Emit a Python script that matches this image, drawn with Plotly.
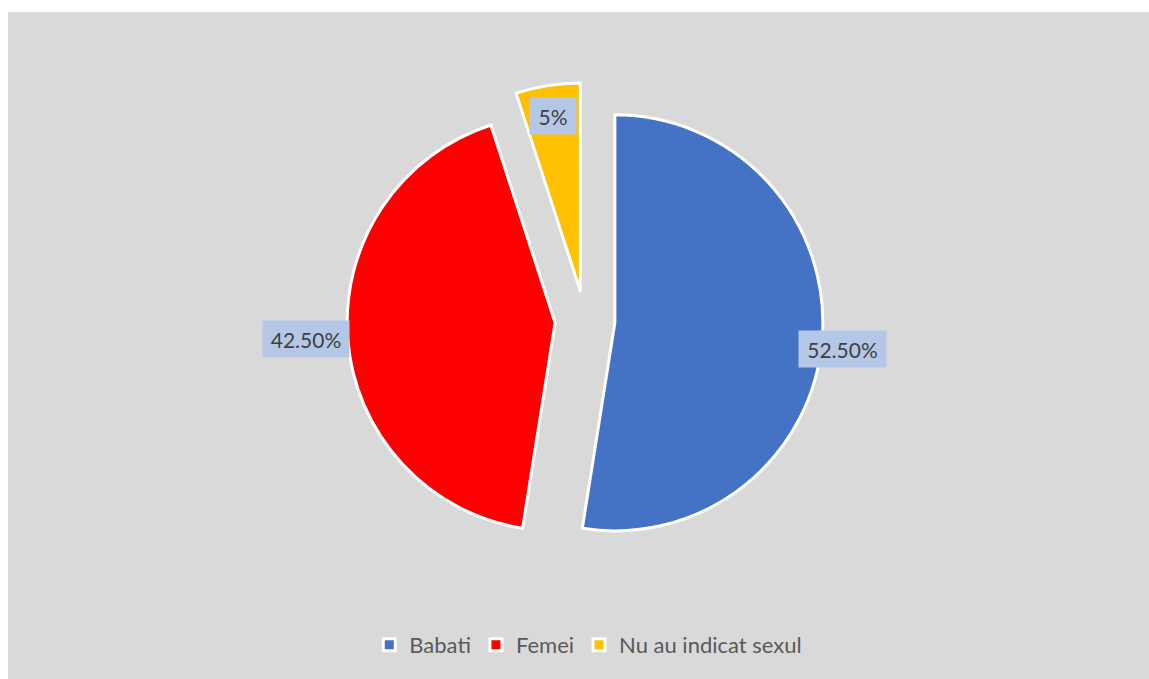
import math
import plotly.graph_objects as go

# ---- data ----
categories = ["Babati", "Femei", "Nu au indicat sexul"]
values = [52.5, 42.5, 5.0]
label_texts = ["52.50%", "42.50%", "5%"]

# ---- styling ----
colors = ["#4472C4", "#FF0000", "#FFC000"]
W, H = 1149, 679
cx, cy = 585, 320.5          # pie centre in pixels
r = 208                      # pie radius in pixels
pull = 0.144
label_r = [1.10, 1.20, 0.85]       # label distance from slice apex (in radii)
label_dtheta = [2.0, 0.8, 0.0]     # small angular tweak of label (deg)
label_w = [87, 86, 46]
label_h = 36

half = r * (1 + pull)
dom_x = [(cx - half) / W, (cx + half) / W]
dom_y = [1 - (cy + half) / H, 1 - (cy - half) / H]

fig = go.Figure(go.Pie(
    labels=categories,
    values=values,
    sort=False,
    direction="clockwise",
    rotation=0,
    pull=[pull] * len(values),
    marker=dict(colors=colors, line=dict(color="white", width=3)),
    textinfo="none",
    hoverinfo="label+percent",
    domain=dict(x=dom_x, y=dom_y),
))

# label positions derived from the data (mid-angle of each slice)
total = sum(values)
cum = 0.0
annotations = []
for i, v in enumerate(values):
    mid = (cum + v / 2) / total * 360.0
    cum += v
    th = math.radians(mid)
    ax_ = cx + pull * r * math.sin(th)
    ay_ = cy - pull * r * math.cos(th)
    th2 = math.radians(mid + label_dtheta[i])
    lx = ax_ + label_r[i] * r * math.sin(th2)
    ly = ay_ - label_r[i] * r * math.cos(th2)
    annotations.append(dict(
        x=lx / W, y=1 - ly / H, xref="paper", yref="paper",
        text=label_texts[i], showarrow=False,
        font=dict(family="Lato", size=21, color="#404040"),
        bgcolor="#B4C7E7", borderpad=0,
        width=label_w[i], height=label_h,
        xanchor="center", yanchor="middle",
    ))

fig.update_layout(
    width=W, height=H,
    margin=dict(l=0, r=0, t=0, b=0),
    paper_bgcolor="white",
    plot_bgcolor="#D9D9D9",
    annotations=annotations,
    shapes=[dict(type="rect", xref="paper", yref="paper",
                 x0=8 / W, x1=1, y0=0, y1=1 - 12 / H,
                 fillcolor="#D9D9D9", line=dict(width=0), layer="below")],
    showlegend=True,
    legend=dict(orientation="h", x=0.512, xanchor="center",
                y=1 - 645 / H, yanchor="middle",
                font=dict(family="Lato", size=22, color="#595959"),
                bgcolor="rgba(0,0,0,0)", itemclick=False),
)

fig.write_html(
    "out.html",
    config={"displayModeBar": False},
    post_script="document.body.style.margin='0';document.body.style.overflow='hidden';",
)
